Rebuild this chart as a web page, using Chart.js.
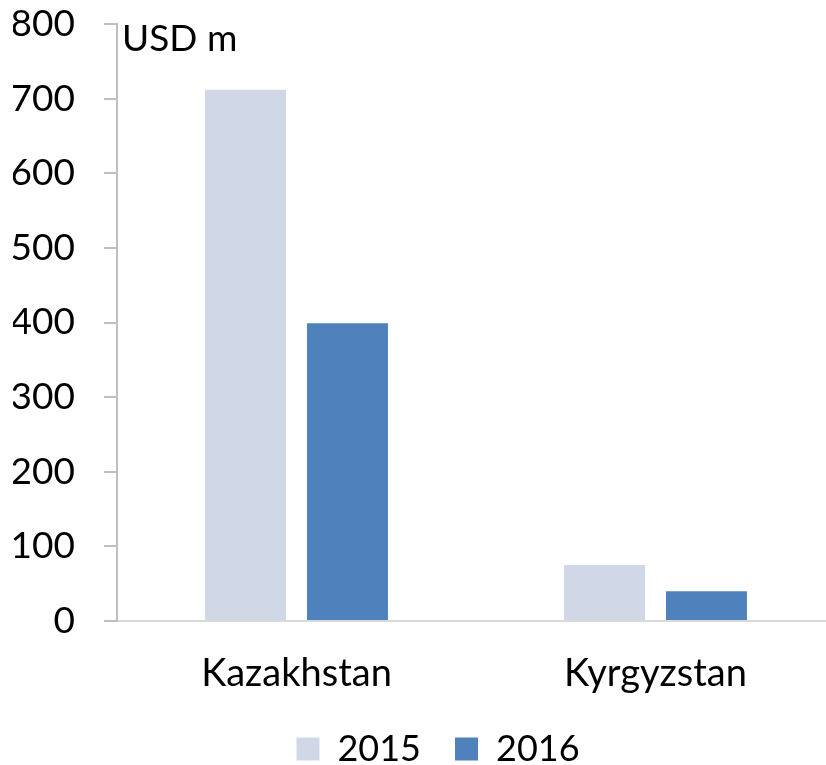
<!DOCTYPE html>
<html lang="en">
<head>
  <meta charset="UTF-8">
  <title>USD m</title>
  <script src="https://cdn.jsdelivr.net/npm/chart.js"></script>
  <style>
    html, body {
      margin: 0;
      padding: 0;
      background: #ffffff;
      overflow: hidden;
    }
    .chart-container {
      width: 835px;
      height: 765px;
    }
  </style>
</head>
<body>
  <div class="chart-container">
    <canvas id="barChart"></canvas>
  </div>

  <script>
    // values
    const countries = ["Kazakhstan", "Kyrgyzstan"];
    const years = ["2015", "2016"];
    const values2015 = [712, 75];
    const values2016 = [399, 40];
    const yTicks = [0, 100, 200, 300, 400, 500, 600, 700, 800];
    const unitLabel = "USD m";

    const FONT = "Lato, 'Open Sans', sans-serif";

    // the "USD m" note in the top left of the plot
    const unitNote = {
      id: "unitNote",
      afterDraw(chart) {
        const ctx = chart.ctx;
        const area = chart.chartArea;
        ctx.save();
        ctx.font = "37px " + FONT;
        ctx.fillStyle = "#000000";
        ctx.textAlign = "left";
        ctx.textBaseline = "alphabetic";
        ctx.fillText(unitLabel, area.left + 5, area.top + 27);
        ctx.restore();
      }
    };

    // nudge the legend a little to the right, as in the reference
    const legendShift = {
      id: "legendShift",
      afterLayout(chart) {
        chart.legend.left += 14;
        chart.legend.right += 14;
      }
    };

    const ctx = document.getElementById("barChart").getContext("2d");
    new Chart(ctx, {
      type: "bar",
      data: {
        labels: countries,
        datasets: [{
          label: years[0],
          data: values2015,
          backgroundColor: "#d0d8e8",
          categoryPercentage: 0.568,
          barPercentage: 0.794
        }, {
          label: years[1],
          data: values2016,
          backgroundColor: "#4f81bd",
          categoryPercentage: 0.568,
          barPercentage: 0.794
        }]
      },
      options: {
        responsive: true,
        maintainAspectRatio: false,
        animation: false,
        layout: {
          padding: { top: 0, left: 13, right: 0, bottom: -12 }
        },
        plugins: {
          legend: {
            position: "bottom",
            labels: {
              boxWidth: 23,
              boxHeight: 23,
              padding: 34,
              color: "#000000",
              font: { family: FONT, size: 36 }
            }
          },
          tooltip: { enabled: false }
        },
        scales: {
          x: {
            afterFit(axis) {
              axis.height = 76;
            },
            grid: { display: false, drawTicks: false },
            border: { display: true, color: "#d9d9d9", width: 2 },
            ticks: {
              color: "#000000",
              padding: 30,
              font: { family: FONT, size: 38 }
            }
          },
          y: {
            min: 0,
            max: 800,
            afterBuildTicks(axis) {
              axis.ticks = yTicks.map(v => ({ value: v }));
            },
            afterFit(axis) {
              axis.width = 104;
              axis.paddingTop = 24;
              axis.paddingBottom = 0;
            },
            grid: {
              drawOnChartArea: false,
              drawTicks: true,
              tickLength: 13,
              color: "#bfbfbf",
              lineWidth: 2
            },
            border: { display: true, color: "#bfbfbf", width: 2 },
            ticks: {
              color: "#000000",
              padding: 29,
              font: { family: FONT, size: 37 }
            }
          }
        }
      },
      plugins: [unitNote, legendShift]
    });
  </script>
</body>
</html>
